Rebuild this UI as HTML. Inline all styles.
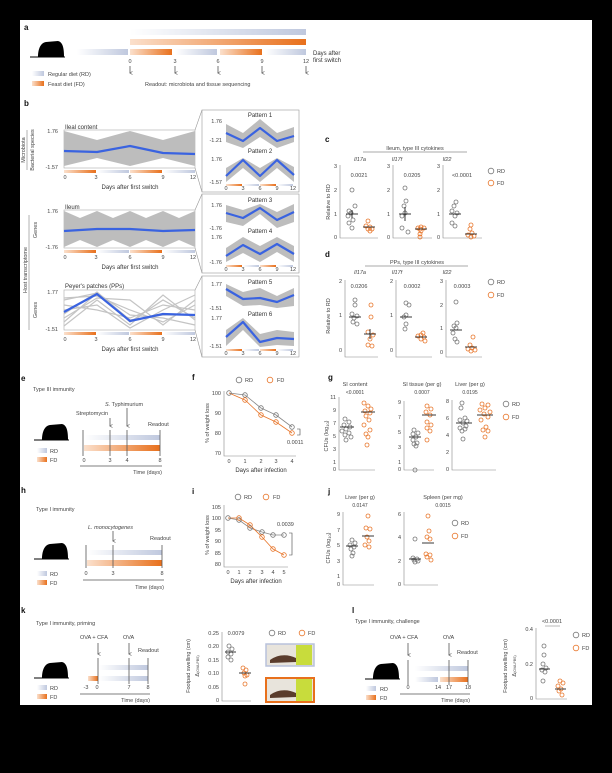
<!DOCTYPE html>
<html><head><meta charset="utf-8"><style>
html,body{margin:0;padding:0;background:#000;}
svg{display:block}
text{font-family:"Liberation Sans",sans-serif;fill:#444;font-size:5.5px}
.L{font-weight:bold;font-size:8px;fill:#111}
.t{font-size:6px;fill:#333}
.m{text-anchor:middle}.e{text-anchor:end}
.r{fill:none;stroke:#777;stroke-width:.8}
.f{fill:none;stroke:#e8762b;stroke-width:.8}
.ax{stroke:#888;stroke-width:.6;fill:none}
.bl{stroke:#3a63e0;stroke-width:2.2;fill:none;stroke-linejoin:round}
.gb{fill:#bdbdbd}
.mk{fill:#111}
.vl{stroke:#555;stroke-width:.8}
.mn{stroke:#222;stroke-width:.9}
</style></head><body>
<svg width="612" height="773" viewBox="0 0 612 773" xmlns="http://www.w3.org/2000/svg">
<defs>
<linearGradient id="gR" x1="0" x2="1"><stop offset="0" stop-color="#fff"/><stop offset="1" stop-color="#bfc8de"/></linearGradient>
<linearGradient id="gF" x1="0" x2="1"><stop offset="0" stop-color="#fbe0cc"/><stop offset="1" stop-color="#e8701c"/></linearGradient>
<marker id="ar" markerWidth="4" markerHeight="4" refX="2" refY="3.5" orient="auto"><path d="M0,0 L2,4 L4,0" fill="none" stroke="#555" stroke-width=".8"/></marker>
<g id="mouse"><path d="M0,17 L8,17 C8,10 10,3 16,2 L28,1 C32,2 34,6 34,17 Z" fill="#000"/><line x1="0" y1="17" x2="35" y2="17" stroke="#000" stroke-width="1"/></g>
</defs>
<rect x="0" y="0" width="612" height="773" fill="#000"/>
<rect x="20" y="20" width="572" height="685" fill="#fff"/>

<!-- a -->
<text class="L" x="24" y="30">a</text>
<use href="#mouse" x="30" y="40"/>
<rect x="130" y="29" width="176" height="6" fill="url(#gR)"/>
<rect x="130" y="39" width="176" height="6" fill="url(#gF)"/>
<rect x="77" y="49" width="51" height="6" fill="url(#gR)"/>
<rect x="130" y="49" width="42" height="6" fill="url(#gF)"/>
<rect x="175" y="49" width="42" height="6" fill="url(#gR)"/>
<rect x="220" y="49" width="42" height="6" fill="url(#gF)"/>
<rect x="265" y="49" width="41" height="6" fill="url(#gR)"/>
<text class="m" x="130" y="63">0</text><text class="m" x="175" y="63">3</text><text class="m" x="218" y="63">6</text><text class="m" x="262" y="63">9</text><text class="m" x="306" y="63">12</text>
<g class="vl"><line x1="130" y1="66" x2="130" y2="73" marker-end="url(#ar)"/><line x1="175" y1="66" x2="175" y2="73" marker-end="url(#ar)"/><line x1="218" y1="66" x2="218" y2="73" marker-end="url(#ar)"/><line x1="262" y1="66" x2="262" y2="73" marker-end="url(#ar)"/><line x1="306" y1="66" x2="306" y2="73" marker-end="url(#ar)"/></g>
<text x="313" y="55" class="t">Days after</text><text x="313" y="62" class="t">first switch</text>
<rect x="32" y="71" width="12" height="5" fill="url(#gR)"/><text x="48" y="76">Regular diet (RD)</text>
<rect x="32" y="81" width="12" height="5" fill="url(#gF)"/><text x="48" y="86">Feast diet (FD)</text>
<text x="145" y="86">Readout: microbiota and tissue sequencing</text>

<!-- b -->
<text class="L" x="24" y="106">b</text>
<text transform="translate(25,150) rotate(-90)" class="m">Microbiota</text>
<line x1="27" y1="130" x2="27" y2="170" stroke="#666" stroke-width=".5"/>
<text transform="translate(34,150) rotate(-90)" class="m">Bacterial species</text>
<text transform="translate(27,270) rotate(-90)" class="m">Host transcriptome</text>
<line x1="29" y1="215" x2="29" y2="330" stroke="#666" stroke-width=".5"/>
<text transform="translate(37,230) rotate(-90)" class="m">Genes</text>
<text transform="translate(37,310) rotate(-90)" class="m">Genes</text>

<!-- ileal -->
<rect x="64" y="130" width="131" height="38" fill="none" stroke="#aaa" stroke-width=".6"/>
<polygon class="gb" points="64,131 97,140 130,131 163,140 195,131 195,166 163,158 130,166 97,158 64,166"/>
<polyline class="bl" points="64,151 97,152 130,146 163,153 195,154"/>
<text x="65" y="129" class="t">Ileal content</text>
<text class="e" x="58" y="133">1.76</text><text class="e" x="58" y="169">-1.57</text>
<rect x="64" y="170" width="32" height="3" fill="url(#gF)"/><rect x="97" y="170" width="32" height="3" fill="url(#gR)"/><rect x="130" y="170" width="32" height="3" fill="url(#gF)"/><rect x="163" y="170" width="32" height="3" fill="url(#gR)"/>
<text class="m" x="65" y="179">0</text><text class="m" x="96" y="179">3</text><text class="m" x="130" y="179">6</text><text class="m" x="163" y="179">9</text><text class="m" x="193" y="179">12</text>
<text class="m t" x="130" y="189">Days after first switch</text>
<!-- ileum -->
<rect x="64" y="210" width="131" height="38" fill="none" stroke="#aaa" stroke-width=".6"/>
<polygon class="gb" points="64,211 80,218 97,211 113,218 130,211 146,218 163,211 179,218 195,211 195,247 179,240 163,247 146,240 130,247 113,240 97,247 80,240 64,247"/>
<polyline class="bl" points="64,231 97,229 130,229 163,231 195,230"/>
<text x="65" y="209" class="t">Ileum</text>
<text class="e" x="58" y="213">1.76</text><text class="e" x="58" y="249">-1.76</text>
<rect x="64" y="250" width="32" height="3" fill="url(#gF)"/><rect x="97" y="250" width="32" height="3" fill="url(#gR)"/><rect x="130" y="250" width="32" height="3" fill="url(#gF)"/><rect x="163" y="250" width="32" height="3" fill="url(#gR)"/>
<text class="m" x="65" y="259">0</text><text class="m" x="96" y="259">3</text><text class="m" x="130" y="259">6</text><text class="m" x="163" y="259">9</text><text class="m" x="193" y="259">12</text>
<text class="m t" x="130" y="269">Days after first switch</text>
<!-- PPs -->
<rect x="64" y="290" width="131" height="40" fill="none" stroke="#aaa" stroke-width=".6"/>
<g stroke="#c4c4c4" stroke-width="1.2" fill="none">
<polyline points="64,300 97,293 130,322 163,300 195,318"/><polyline points="64,318 97,298 130,300 163,325 195,300"/><polyline points="64,310 97,305 130,328 163,310 195,295"/><polyline points="64,322 97,293 130,315 163,318 195,325"/><polyline points="64,305 97,310 130,318 163,305 195,310"/><polyline points="64,326 97,300 130,325 163,295 195,320"/><polyline points="64,298 97,296 130,310 163,322 195,305"/><polyline points="64,314 97,292 130,320 163,315 195,315"/></g>
<polyline class="bl" points="64,312 97,294 130,321 163,314 195,315"/>
<text x="65" y="288" class="t">Peyer's patches (PPs)</text>
<text class="e" x="58" y="294">1.77</text><text class="e" x="58" y="331">-1.51</text>
<rect x="64" y="332" width="32" height="3" fill="url(#gF)"/><rect x="97" y="332" width="32" height="3" fill="url(#gR)"/><rect x="130" y="332" width="32" height="3" fill="url(#gF)"/><rect x="163" y="332" width="32" height="3" fill="url(#gR)"/>
<text class="m" x="65" y="341">0</text><text class="m" x="96" y="341">3</text><text class="m" x="130" y="341">6</text><text class="m" x="163" y="341">9</text><text class="m" x="193" y="341">12</text>
<text class="m t" x="130" y="351">Days after first switch</text>

<!-- pattern boxes -->
<g stroke="#999" stroke-width=".6" fill="none">
<rect x="202" y="110" width="97" height="82"/><rect x="202" y="194" width="97" height="79"/><rect x="202" y="276" width="97" height="81"/>
<line x1="195" y1="130" x2="202" y2="110"/><line x1="195" y1="168" x2="202" y2="192"/>
<line x1="195" y1="210" x2="202" y2="194"/><line x1="195" y1="248" x2="202" y2="273"/>
<line x1="195" y1="290" x2="202" y2="276"/><line x1="195" y1="330" x2="202" y2="357"/></g>
<g class="gb">
<polygon points="226,124 243,133 260,119 277,133 294,127 294,142 277,148 260,137 243,148 226,142"/>
<polygon points="226,168 243,158 260,168 277,158 294,167 294,182 277,168 260,182 243,168 226,182"/>
<polygon points="226,205 243,210 260,204 277,212 294,204 294,222 277,228 260,214 243,226 226,222"/>
<polygon points="226,248 243,237 260,246 277,237 294,246 294,262 277,252 260,262 243,253 226,262"/>
<polygon points="226,284 243,292 260,288 277,296 294,288 294,306 277,308 260,305 243,306 226,296"/>
<polygon points="226,330 243,318 260,334 277,330 294,332 294,346 277,345 260,347 243,330 226,346"/>
</g>
<g class="bl">
<polyline points="226,133 243,141 260,128 277,141 294,136"/>
<polyline points="226,176 243,160 260,176 277,160 294,175"/>
<polyline points="226,213 243,218 260,208 277,220 294,212"/>
<polyline points="226,256 243,245 260,254 277,244 294,254"/>
<polyline points="226,289 243,299 260,298 277,302 294,295"/>
<polyline points="226,337 243,322 260,342 277,338 294,339"/>
</g>
<text class="m t" x="260" y="117">Pattern 1</text><text class="m t" x="260" y="153">Pattern 2</text>
<text class="m t" x="260" y="202">Pattern 3</text><text class="m t" x="260" y="233">Pattern 4</text>
<text class="m t" x="260" y="284">Pattern 5</text><text class="m t" x="260" y="316">Pattern 6</text>
<g style="font-size:4.5px">
<text class="e" x="222" y="123">1.76</text><text class="e" x="222" y="142">-1.21</text>
<text class="e" x="222" y="161">1.76</text><text class="e" x="222" y="184">-1.57</text>
<text class="e" x="222" y="207">1.76</text><text class="e" x="222" y="230">-1.76</text>
<text class="e" x="222" y="239">1.76</text><text class="e" x="222" y="264">-1.76</text>
<text class="e" x="222" y="286">1.77</text><text class="e" x="222" y="310">-1.51</text>
<text class="e" x="222" y="320">1.77</text><text class="e" x="222" y="348">-1.51</text>
<text class="m" x="226" y="190">0</text><text class="m" x="243" y="190">3</text><text class="m" x="260" y="190">6</text><text class="m" x="277" y="190">9</text><text class="m" x="293" y="190">12</text>
<text class="m" x="226" y="271">0</text><text class="m" x="243" y="271">3</text><text class="m" x="260" y="271">6</text><text class="m" x="277" y="271">9</text><text class="m" x="293" y="271">12</text>
<text class="m" x="226" y="355">0</text><text class="m" x="243" y="355">3</text><text class="m" x="260" y="355">6</text><text class="m" x="277" y="355">9</text><text class="m" x="293" y="355">12</text>
</g>
<g><rect x="226" y="184" width="16" height="2" fill="url(#gF)"/><rect x="243" y="184" width="16" height="2" fill="url(#gR)"/><rect x="260" y="184" width="16" height="2" fill="url(#gF)"/><rect x="277" y="184" width="16" height="2" fill="url(#gR)"/>
<rect x="226" y="265" width="16" height="2" fill="url(#gF)"/><rect x="243" y="265" width="16" height="2" fill="url(#gR)"/><rect x="260" y="265" width="16" height="2" fill="url(#gF)"/><rect x="277" y="265" width="16" height="2" fill="url(#gR)"/>
<rect x="226" y="349" width="16" height="2" fill="url(#gF)"/><rect x="243" y="349" width="16" height="2" fill="url(#gR)"/><rect x="260" y="349" width="16" height="2" fill="url(#gF)"/><rect x="277" y="349" width="16" height="2" fill="url(#gR)"/></g>

<!-- c -->
<text class="L" x="325" y="142">c</text>
<text class="m" x="415" y="150">Ileum, type III cytokines</text>
<line x1="363" y1="152" x2="467" y2="152" stroke="#555" stroke-width=".6"/>
<g font-style="italic"><text class="m" x="360" y="161" font-style="italic">Il17a</text><text class="m" x="397" y="161" font-style="italic">Il17f</text><text class="m" x="447" y="161" font-style="italic">Il22</text></g>
<text transform="translate(330,202) rotate(-90)" class="m">Relative to RD</text>
<g class="ax"><path d="M340,165 V238 H378"/><path d="M393,165 V238 H432"/><path d="M443,165 V238 H482"/></g>
<g style="font-size:5px"><text class="e" x="337" y="168">3</text><text class="e" x="337" y="192">2</text><text class="e" x="337" y="216">1</text><text class="e" x="337" y="239">0</text>
<text class="e" x="390" y="168">3</text><text class="e" x="390" y="192">2</text><text class="e" x="390" y="216">1</text><text class="e" x="390" y="239">0</text>
<text class="e" x="440" y="168">3</text><text class="e" x="440" y="192">2</text><text class="e" x="440" y="216">1</text><text class="e" x="440" y="239">0</text>
<text class="m" x="359" y="177">0.0021</text><text class="m" x="412" y="177">0.0205</text><text class="m" x="462" y="177">&lt;0.0001</text></g>
<g class="r"><circle cx="352" cy="190" r="2"/><circle cx="349" cy="211" r="2"/><circle cx="355" cy="206" r="2"/><circle cx="351" cy="213" r="2"/><circle cx="348" cy="216" r="2"/><circle cx="353" cy="220" r="2"/><circle cx="349" cy="223" r="2"/><circle cx="352" cy="228" r="2"/>
<circle cx="405" cy="188" r="2"/><circle cx="406" cy="201" r="2"/><circle cx="404" cy="206" r="2"/><circle cx="405" cy="213" r="2"/><circle cx="402" cy="216" r="2"/><circle cx="402" cy="228" r="2"/><circle cx="408" cy="232" r="2"/>
<circle cx="456" cy="202" r="2"/><circle cx="454" cy="206" r="2"/><circle cx="452" cy="211" r="2"/><circle cx="457" cy="213" r="2"/><circle cx="455" cy="216" r="2"/><circle cx="452" cy="223" r="2"/><circle cx="455" cy="226" r="2"/></g>
<g class="f"><circle cx="368" cy="221" r="2"/><circle cx="366" cy="226" r="2"/><circle cx="370" cy="227" r="2"/><circle cx="368" cy="229" r="2"/><circle cx="372" cy="229" r="2"/><circle cx="370" cy="231" r="2"/>
<circle cx="421" cy="227" r="2"/><circle cx="418" cy="228" r="2"/><circle cx="424" cy="228" r="2"/><circle cx="420" cy="229" r="2"/><circle cx="421" cy="231" r="2"/><circle cx="420" cy="234" r="2"/><circle cx="420" cy="237" r="2"/>
<circle cx="471" cy="225" r="2"/><circle cx="470" cy="229" r="2"/><circle cx="472" cy="233" r="2"/><circle cx="468" cy="235" r="2"/><circle cx="474" cy="236" r="2"/><circle cx="471" cy="237" r="2"/></g>
<g class="mn"><line x1="346" y1="214" x2="358" y2="214"/><line x1="352" y1="210" x2="352" y2="218"/><line x1="363" y1="227" x2="375" y2="227"/>
<line x1="399" y1="214" x2="411" y2="214"/><line x1="405" y1="207" x2="405" y2="221"/><line x1="415" y1="229" x2="427" y2="229"/>
<line x1="449" y1="214" x2="461" y2="214"/><line x1="465" y1="234" x2="477" y2="234"/></g>
<circle class="r" cx="491" cy="171" r="2.8"/><text x="497" y="173">RD</text>
<circle class="f" cx="491" cy="183" r="2.8"/><text x="497" y="185">FD</text>

<!-- d -->
<text class="L" x="325" y="257">d</text>
<text class="m" x="417" y="264">PPs, type III cytokines</text>
<line x1="365" y1="266" x2="468" y2="266" stroke="#555" stroke-width=".6"/>
<text class="m" x="360" y="274" font-style="italic">Il17a</text><text class="m" x="397" y="274" font-style="italic">Il17f</text><text class="m" x="447" y="274" font-style="italic">Il22</text>
<text transform="translate(330,316) rotate(-90)" class="m">Relative to RD</text>
<g class="ax"><path d="M345,280 V357 H378"/><path d="M396,280 V357 H432"/><path d="M446,280 V357 H482"/></g>
<g style="font-size:5px"><text class="e" x="342" y="283">2</text><text class="e" x="342" y="317">1</text><text class="e" x="342" y="352">0</text>
<text class="e" x="393" y="283">2</text><text class="e" x="393" y="317">1</text><text class="e" x="393" y="352">0</text>
<text class="e" x="443" y="283">3</text><text class="e" x="443" y="307">2</text><text class="e" x="443" y="330">1</text><text class="e" x="443" y="354">0</text>
<text class="m" x="359" y="288">0.0206</text><text class="m" x="412" y="288">0.0002</text><text class="m" x="462" y="288">0.0003</text></g>
<g class="r"><circle cx="355" cy="300" r="2"/><circle cx="355" cy="305" r="2"/><circle cx="352" cy="314" r="2"/><circle cx="357" cy="316" r="2"/><circle cx="354" cy="318" r="2"/><circle cx="353" cy="322" r="2"/><circle cx="357" cy="324" r="2"/>
<circle cx="406" cy="303" r="2"/><circle cx="409" cy="305" r="2"/><circle cx="406" cy="315" r="2"/><circle cx="404" cy="317" r="2"/><circle cx="406" cy="324" r="2"/><circle cx="405" cy="329" r="2"/>
<circle cx="456" cy="302" r="2"/><circle cx="457" cy="323" r="2"/><circle cx="454" cy="326" r="2"/><circle cx="456" cy="328" r="2"/><circle cx="453" cy="333" r="2"/><circle cx="455" cy="339" r="2"/><circle cx="457" cy="342" r="2"/></g>
<g class="f"><circle cx="371" cy="305" r="2"/><circle cx="371" cy="317" r="2"/><circle cx="368" cy="332" r="2"/><circle cx="373" cy="335" r="2"/><circle cx="370" cy="339" r="2"/><circle cx="368" cy="345" r="2"/><circle cx="372" cy="346" r="2"/>
<circle cx="423" cy="333" r="2"/><circle cx="421" cy="335" r="2"/><circle cx="418" cy="336" r="2"/><circle cx="424" cy="337" r="2"/><circle cx="421" cy="339" r="2"/><circle cx="425" cy="341" r="2"/>
<circle cx="473" cy="337" r="2"/><circle cx="470" cy="345" r="2"/><circle cx="472" cy="348" r="2"/><circle cx="468" cy="349" r="2"/><circle cx="475" cy="350" r="2"/><circle cx="471" cy="351" r="2"/></g>
<g class="mn"><line x1="349" y1="317" x2="361" y2="317"/><line x1="364" y1="334" x2="376" y2="334"/><line x1="370" y1="329" x2="370" y2="339"/>
<line x1="400" y1="317" x2="412" y2="317"/><line x1="415" y1="337" x2="427" y2="337"/>
<line x1="450" y1="330" x2="462" y2="330"/><line x1="465" y1="347" x2="477" y2="347"/></g>
<circle class="r" cx="491" cy="282" r="2.8"/><text x="497" y="284">RD</text>
<circle class="f" cx="491" cy="295" r="2.8"/><text x="497" y="297">FD</text>

<!-- e -->
<text class="L" x="21" y="381">e</text>
<text x="33" y="391">Type III immunity</text>
<use href="#mouse" x="34" y="423"/>
<rect x="37" y="448" width="10" height="5" fill="url(#gR)"/><text x="50" y="453">RD</text>
<rect x="37" y="457" width="10" height="5" fill="url(#gF)"/><text x="50" y="462">FD</text>
<rect x="84" y="435" width="76" height="5" fill="url(#gR)"/>
<rect x="84" y="445" width="76" height="6" fill="url(#gF)"/>
<g class="vl"><line x1="83" y1="430" x2="83" y2="456"/><line x1="110" y1="430" x2="110" y2="456"/><line x1="127" y1="430" x2="127" y2="456"/><line x1="160" y1="430" x2="160" y2="456"/>
<line x1="110" y1="418" x2="110" y2="426" marker-end="url(#ar)"/><line x1="127" y1="408" x2="127" y2="426" marker-end="url(#ar)"/>
<line x1="80" y1="466" x2="162" y2="466"/></g>
<text class="m" x="84" y="462">0</text><text class="m" x="110" y="462">3</text><text class="m" x="127" y="462">4</text><text class="m" x="160" y="462">8</text>
<text x="76" y="415">Streptomycin</text><text x="105" y="406"><tspan font-style="italic">S.</tspan> Typhimurium</text><text x="148" y="426">Readout</text>
<text class="e" x="162" y="474">Time (days)</text>

<!-- f -->
<text class="L" x="192" y="380">f</text>
<circle class="r" cx="239" cy="380" r="2.8"/><text x="245" y="382">RD</text>
<circle class="f" cx="270" cy="380" r="2.8"/><text x="277" y="382">FD</text>
<path class="ax" d="M224,391 V456 H296"/>
<g style="font-size:5px"><text class="e" x="221" y="395">100</text><text class="e" x="221" y="415">90</text><text class="e" x="221" y="435">80</text><text class="e" x="221" y="455">70</text>
<text class="m" x="229" y="463">0</text><text class="m" x="245" y="463">1</text><text class="m" x="261" y="463">2</text><text class="m" x="276" y="463">3</text><text class="m" x="292" y="463">4</text>
<text x="287" y="444">0.0011</text></g>
<text transform="translate(209,423) rotate(-90)" class="m">% of weight loss</text>
<text class="m t" x="261" y="472">Days after infection</text>
<polyline points="229,393 245,395 261,408 276,415 292,427" fill="none" stroke="#888" stroke-width=".8"/>
<polyline points="229,393 245,400 261,415 276,422 292,433" fill="none" stroke="#e8762b" stroke-width=".8"/>
<g class="r"><circle cx="229" cy="393" r="2.3"/><circle cx="245" cy="395" r="2.3"/><circle cx="261" cy="408" r="2.3"/><circle cx="276" cy="415" r="2.3"/><circle cx="292" cy="427" r="2.3"/></g>
<g class="f"><circle cx="245" cy="400" r="2.3"/><circle cx="261" cy="415" r="2.3"/><circle cx="276" cy="422" r="2.3"/><circle cx="292" cy="433" r="2.3"/></g>
<path d="M297,429 H300 V435 H297" fill="none" stroke="#444" stroke-width=".6"/>

<!-- g -->
<text class="L" x="328" y="380">g</text>
<text class="m" x="355" y="386">SI content</text><text class="m" x="355" y="394" style="font-size:5px">&lt;0.0001</text>
<text class="m" x="422" y="386">SI tissue (per g)</text><text class="m" x="422" y="394" style="font-size:5px">0.0007</text>
<text class="m" x="470" y="386">Liver (per g)</text><text class="m" x="470" y="394" style="font-size:5px">0.0195</text>
<text transform="translate(328,436) rotate(-90)" class="m">CFUs (log<tspan font-size="4" dy="1">10</tspan><tspan dy="-1">)</tspan></text>
<g class="ax"><path d="M339,397 V470 H375"/><path d="M404,401 V470 H434"/><path d="M452,400 V470 H496"/></g>
<g style="font-size:4.5px">
<text class="e" x="336" y="399">11</text><text class="e" x="336" y="412">9</text><text class="e" x="336" y="425">7</text><text class="e" x="336" y="438">5</text><text class="e" x="336" y="451">3</text><text class="e" x="336" y="464">1</text><text class="e" x="336" y="471">0</text>
<text class="e" x="401" y="404">9</text><text class="e" x="401" y="419">7</text><text class="e" x="401" y="434">5</text><text class="e" x="401" y="449">3</text><text class="e" x="401" y="464">1</text><text class="e" x="401" y="471">0</text>
<text class="e" x="449" y="403">8</text><text class="e" x="449" y="420">6</text><text class="e" x="449" y="437">4</text><text class="e" x="449" y="454">2</text><text class="e" x="449" y="471">0</text></g>
<g class="r"><circle cx="345" cy="419" r="2"/><circle cx="349" cy="422" r="2"/><circle cx="344" cy="425" r="2"/><circle cx="350" cy="427" r="2"/><circle cx="346" cy="429" r="2"/><circle cx="342" cy="431" r="2"/><circle cx="349" cy="433" r="2"/><circle cx="345" cy="435" r="2"/><circle cx="351" cy="437" r="2"/><circle cx="346" cy="440" r="2"/>
<circle cx="414" cy="430" r="2"/><circle cx="418" cy="433" r="2"/><circle cx="413" cy="434" r="2"/><circle cx="416" cy="437" r="2"/><circle cx="413" cy="440" r="2"/><circle cx="417" cy="443" r="2"/><circle cx="414" cy="444" r="2"/><circle cx="416" cy="446" r="2"/><circle cx="415" cy="470" r="2"/>
<circle cx="462" cy="403" r="2"/><circle cx="461" cy="408" r="2"/><circle cx="465" cy="418" r="2"/><circle cx="460" cy="420" r="2"/><circle cx="467" cy="421" r="2"/><circle cx="463" cy="423" r="2"/><circle cx="466" cy="426" r="2"/><circle cx="460" cy="428" r="2"/><circle cx="465" cy="429" r="2"/><circle cx="462" cy="431" r="2"/><circle cx="463" cy="439" r="2"/></g>
<g class="f"><circle cx="364" cy="403" r="2"/><circle cx="368" cy="406" r="2"/><circle cx="371" cy="409" r="2"/><circle cx="365" cy="411" r="2"/><circle cx="370" cy="413" r="2"/><circle cx="366" cy="416" r="2"/><circle cx="369" cy="420" r="2"/><circle cx="364" cy="425" r="2"/><circle cx="370" cy="430" r="2"/><circle cx="366" cy="434" r="2"/><circle cx="368" cy="437" r="2"/><circle cx="367" cy="445" r="2"/>
<circle cx="427" cy="406" r="2"/><circle cx="431" cy="409" r="2"/><circle cx="426" cy="412" r="2"/><circle cx="430" cy="415" r="2"/><circle cx="427" cy="422" r="2"/><circle cx="431" cy="425" r="2"/><circle cx="427" cy="428" r="2"/><circle cx="430" cy="431" r="2"/><circle cx="427" cy="440" r="2"/>
<circle cx="482" cy="404" r="2"/><circle cx="488" cy="405" r="2"/><circle cx="485" cy="408" r="2"/><circle cx="480" cy="410" r="2"/><circle cx="490" cy="412" r="2"/><circle cx="484" cy="414" r="2"/><circle cx="488" cy="417" r="2"/><circle cx="481" cy="420" r="2"/><circle cx="486" cy="427" r="2"/><circle cx="483" cy="430" r="2"/><circle cx="488" cy="431" r="2"/><circle cx="485" cy="437" r="2"/></g>
<g class="mn"><line x1="340" y1="427" x2="354" y2="427"/><line x1="361" y1="412" x2="375" y2="412"/><line x1="409" y1="437" x2="421" y2="437"/><line x1="422" y1="415" x2="436" y2="415"/><line x1="456" y1="423" x2="472" y2="423"/><line x1="477" y1="415" x2="493" y2="415"/></g>
<circle class="r" cx="506" cy="404" r="2.8"/><text x="512" y="406">RD</text>
<circle class="f" cx="506" cy="417" r="2.8"/><text x="512" y="419">FD</text>

<!-- h -->
<text class="L" x="21" y="493">h</text>
<text x="36" y="511">Type I immunity</text>
<text x="88" y="529"><tspan font-style="italic">L. monocytogenes</tspan></text>
<text x="150" y="540">Readout</text>
<use href="#mouse" x="34" y="542"/>
<rect x="37" y="571" width="10" height="5" fill="url(#gR)"/><text x="50" y="576">RD</text>
<rect x="37" y="580" width="10" height="5" fill="url(#gF)"/><text x="50" y="585">FD</text>
<rect x="87" y="550" width="75" height="5" fill="url(#gR)"/>
<rect x="87" y="560" width="75" height="6" fill="url(#gF)"/>
<g class="vl"><line x1="86" y1="545" x2="86" y2="568"/><line x1="113" y1="545" x2="113" y2="568"/><line x1="162" y1="545" x2="162" y2="568"/>
<line x1="113" y1="531" x2="113" y2="541" marker-end="url(#ar)"/><line x1="83" y1="580" x2="164" y2="580"/></g>
<text class="m" x="86" y="575">0</text><text class="m" x="113" y="575">3</text><text class="m" x="162" y="575">8</text>
<text class="e" x="164" y="589">Time (days)</text>

<!-- i -->
<text class="L" x="192" y="494">i</text>
<circle class="r" cx="238" cy="497" r="2.8"/><text x="244" y="499">RD</text>
<circle class="f" cx="266" cy="497" r="2.8"/><text x="273" y="499">FD</text>
<path class="ax" d="M224,505 V567 H288"/>
<g style="font-size:5px"><text class="e" x="221" y="509">105</text><text class="e" x="221" y="520">100</text><text class="e" x="221" y="532">95</text><text class="e" x="221" y="543">90</text><text class="e" x="221" y="555">85</text><text class="e" x="221" y="566">80</text>
<text class="m" x="228" y="574">0</text><text class="m" x="239" y="574">1</text><text class="m" x="250" y="574">2</text><text class="m" x="262" y="574">3</text><text class="m" x="273" y="574">4</text><text class="m" x="284" y="574">5</text>
<text x="277" y="526">0.0039</text></g>
<text transform="translate(209,535) rotate(-90)" class="m">% of weight loss</text>
<text class="m t" x="256" y="583">Days after infection</text>
<polyline points="228,518 239,520 250,528 262,532 273,535 284,535" fill="none" stroke="#888" stroke-width=".8"/>
<polyline points="228,518 239,518 250,525 262,537 273,549 284,555" fill="none" stroke="#e8762b" stroke-width=".8"/>
<g class="r"><circle cx="228" cy="518" r="2.3"/><circle cx="239" cy="520" r="2.3"/><circle cx="250" cy="528" r="2.3"/><circle cx="262" cy="532" r="2.3"/><circle cx="273" cy="535" r="2.3"/><circle cx="284" cy="535" r="2.3"/></g>
<g class="f"><circle cx="239" cy="518" r="2.3"/><circle cx="250" cy="525" r="2.3"/><circle cx="262" cy="537" r="2.3"/><circle cx="273" cy="549" r="2.3"/><circle cx="284" cy="555" r="2.3"/></g>
<path d="M289,533 H292 V555 H289" fill="none" stroke="#444" stroke-width=".6"/>

<!-- j -->
<text class="L" x="328" y="494">j</text>
<text class="m" x="360" y="499">Liver (per g)</text><text class="m" x="360" y="507" style="font-size:5px">0.0147</text>
<text class="m" x="443" y="499">Spleen (per mg)</text><text class="m" x="443" y="507" style="font-size:5px">0.0015</text>
<text transform="translate(330,548) rotate(-90)" class="m">CFUs (log<tspan font-size="4" dy="1">10</tspan><tspan dy="-1">)</tspan></text>
<g class="ax"><path d="M343,512 V585 H374"/><path d="M404,512 V585 H438"/></g>
<g style="font-size:4.5px"><text class="e" x="340" y="516">9</text><text class="e" x="340" y="532">7</text><text class="e" x="340" y="547">5</text><text class="e" x="340" y="563">3</text><text class="e" x="340" y="578">1</text><text class="e" x="340" y="586">0</text>
<text class="e" x="401" y="516">6</text><text class="e" x="401" y="539">4</text><text class="e" x="401" y="563">2</text><text class="e" x="401" y="586">0</text></g>
<g class="r"><circle cx="352" cy="540" r="2"/><circle cx="355" cy="543" r="2"/><circle cx="350" cy="545" r="2"/><circle cx="354" cy="547" r="2"/><circle cx="351" cy="549" r="2"/><circle cx="353" cy="553" r="2"/><circle cx="352" cy="556" r="2"/>
<circle cx="415" cy="539" r="2"/><circle cx="413" cy="558" r="2"/><circle cx="417" cy="559" r="2"/><circle cx="414" cy="560" r="2"/><circle cx="418" cy="561" r="2"/><circle cx="415" cy="562" r="2"/></g>
<g class="f"><circle cx="368" cy="516" r="2"/><circle cx="366" cy="528" r="2"/><circle cx="370" cy="529" r="2"/><circle cx="367" cy="537" r="2"/><circle cx="369" cy="541" r="2"/><circle cx="365" cy="545" r="2"/><circle cx="369" cy="547" r="2"/>
<circle cx="428" cy="516" r="2"/><circle cx="429" cy="531" r="2"/><circle cx="427" cy="537" r="2"/><circle cx="430" cy="539" r="2"/><circle cx="426" cy="554" r="2"/><circle cx="430" cy="555" r="2"/><circle cx="427" cy="557" r="2"/><circle cx="431" cy="560" r="2"/></g>
<g class="mn"><line x1="346" y1="546" x2="358" y2="546"/><line x1="362" y1="536" x2="374" y2="536"/><line x1="409" y1="559" x2="421" y2="559"/><line x1="422" y1="543" x2="434" y2="543"/></g>
<circle class="r" cx="455" cy="523" r="2.8"/><text x="461" y="525">RD</text>
<circle class="f" cx="455" cy="536" r="2.8"/><text x="461" y="538">FD</text>

<!-- k -->
<text class="L" x="21" y="613">k</text>
<text x="36" y="625">Type I immunity, priming</text>
<text x="80" y="639">OVA + CFA</text><text x="123" y="639">OVA</text><text x="138" y="652">Readout</text>
<use href="#mouse" x="34" y="661"/>
<rect x="37" y="685" width="10" height="5" fill="url(#gR)"/><text x="50" y="690">RD</text>
<rect x="37" y="694" width="10" height="5" fill="url(#gF)"/><text x="50" y="699">FD</text>
<rect x="99" y="665" width="49" height="5" fill="url(#gR)"/>
<rect x="88" y="676" width="10" height="5" fill="url(#gF)"/><rect x="99" y="676" width="49" height="5" fill="url(#gR)"/>
<g class="vl"><line x1="98" y1="658" x2="98" y2="684"/><line x1="129" y1="658" x2="129" y2="684"/><line x1="148" y1="658" x2="148" y2="684"/>
<line x1="98" y1="643" x2="98" y2="654" marker-end="url(#ar)"/><line x1="129" y1="643" x2="129" y2="654" marker-end="url(#ar)"/><line x1="80" y1="694" x2="150" y2="694"/></g>
<text class="m" x="86" y="689">-3</text><text class="m" x="97" y="689">0</text><text class="m" x="129" y="689">7</text><text class="m" x="148" y="689">8</text>
<text class="e" x="150" y="702">Time (days)</text>
<text transform="translate(190,666) rotate(-90)" class="m">Footpad swelling (cm)</text>
<text transform="translate(199,666) rotate(-90)" class="m">Δ<tspan font-size="3.5">(OVA-PBS)</tspan></text>
<path class="ax" d="M222,632 V701 H251"/>
<g style="font-size:4.5px"><text class="e" x="219" y="635">0.25</text><text class="e" x="219" y="648">0.20</text><text class="e" x="219" y="662">0.15</text><text class="e" x="219" y="675">0.10</text><text class="e" x="219" y="689">0.05</text><text class="e" x="219" y="702">0</text>
<text class="m" x="236" y="635">0.0079</text></g>
<g class="r"><circle cx="229" cy="646" r="2"/><circle cx="232" cy="649" r="2"/><circle cx="228" cy="652" r="2"/><circle cx="231" cy="654" r="2"/><circle cx="228" cy="657" r="2"/><circle cx="231" cy="660" r="2"/></g>
<g class="f"><circle cx="243" cy="668" r="2"/><circle cx="246" cy="670" r="2"/><circle cx="244" cy="673" r="2"/><circle cx="247" cy="675" r="2"/><circle cx="245" cy="676" r="2"/><circle cx="245" cy="684" r="2"/></g>
<g class="mn"><line x1="225" y1="652" x2="236" y2="652"/><line x1="239" y1="673" x2="251" y2="673"/></g>
<circle class="r" cx="272" cy="633" r="2.8"/><text x="278" y="635">RD</text>
<circle class="f" cx="302" cy="633" r="2.8"/><text x="308" y="635">FD</text>
<rect x="266" y="644" width="48" height="22" fill="#e8e4dc" stroke="#b8c2dc" stroke-width="1.5"/>
<rect x="296" y="645" width="16" height="20" fill="#c8dc3c"/><path d="M270,660 C278,654 288,654 296,658 L296,662 L270,663 Z" fill="#5a3c2c"/>
<rect x="266" y="678" width="48" height="24" fill="#e8e4dc" stroke="#e8701c" stroke-width="2"/>
<rect x="296" y="679" width="16" height="22" fill="#c8dc3c"/><path d="M270,695 C278,689 288,689 296,693 L296,697 L270,698 Z" fill="#5a3c2c"/>

<!-- l -->
<text class="L" x="352" y="613">l</text>
<text x="355" y="623">Type I immunity, challenge</text>
<text x="390" y="639">OVA + CFA</text><text x="443" y="639">OVA</text><text x="457" y="654">Readout</text>
<use href="#mouse" x="365" y="662"/>
<rect x="366" y="686" width="10" height="5" fill="url(#gR)"/><text x="380" y="691">RD</text>
<rect x="366" y="695" width="10" height="5" fill="url(#gF)"/><text x="380" y="700">FD</text>
<rect x="415" y="666" width="53" height="5" fill="url(#gR)"/>
<rect x="415" y="677" width="23" height="5" fill="url(#gR)"/><rect x="440" y="677" width="28" height="5" fill="url(#gF)"/>
<g class="vl"><line x1="408" y1="660" x2="408" y2="685"/><line x1="449" y1="660" x2="449" y2="685"/><line x1="468" y1="660" x2="468" y2="685"/>
<line x1="408" y1="643" x2="408" y2="655" marker-end="url(#ar)"/><line x1="449" y1="643" x2="449" y2="655" marker-end="url(#ar)"/><line x1="400" y1="694" x2="470" y2="694"/></g>
<text class="m" x="408" y="689">0</text><text class="m" x="438" y="689">14</text><text class="m" x="449" y="689">17</text><text class="m" x="468" y="689">18</text>
<text class="e" x="470" y="702">Time (days)</text>
<text transform="translate(507,666) rotate(-90)" class="m">Footpad swelling (cm)</text>
<text transform="translate(516,666) rotate(-90)" class="m">Δ<tspan font-size="3.5">(OVA-PBS)</tspan></text>
<path class="ax" d="M536,628 V699 H567"/>
<g style="font-size:4.5px"><text class="e" x="533" y="631">0.4</text><text class="e" x="533" y="666">0.2</text><text class="e" x="533" y="700">0</text>
<text class="m" x="552" y="623">&lt;0.0001</text></g>
<line x1="545" y1="626" x2="560" y2="626" stroke="#777" stroke-width=".5"/>
<g class="r"><circle cx="544" cy="646" r="2"/><circle cx="544" cy="655" r="2"/><circle cx="543" cy="664" r="2"/><circle cx="546" cy="668" r="2"/><circle cx="542" cy="670" r="2"/><circle cx="545" cy="672" r="2"/><circle cx="543" cy="681" r="2"/></g>
<g class="f"><circle cx="560" cy="681" r="2"/><circle cx="563" cy="683" r="2"/><circle cx="558" cy="686" r="2"/><circle cx="561" cy="689" r="2"/><circle cx="559" cy="691" r="2"/><circle cx="562" cy="695" r="2"/></g>
<g class="mn"><line x1="539" y1="669" x2="550" y2="669"/><line x1="555" y1="689" x2="566" y2="689"/></g>
<circle class="r" cx="576" cy="635" r="2.8"/><text x="582" y="637">RD</text>
<circle class="f" cx="576" cy="648" r="2.8"/><text x="582" y="650">FD</text>
<rect x="592" y="0" width="20" height="773" fill="#000"/>
</svg>
</body></html>
